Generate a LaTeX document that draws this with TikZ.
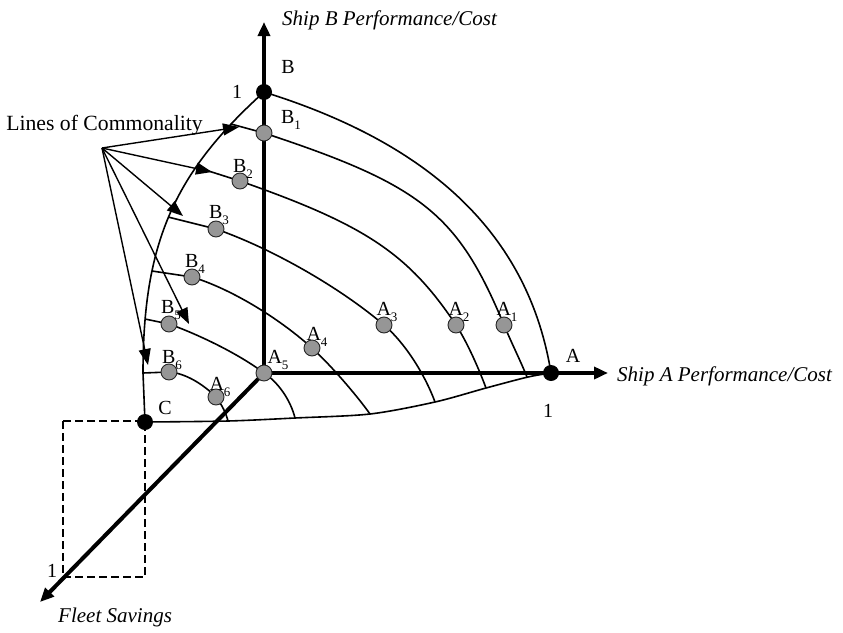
\documentclass[tikz,border=0pt]{standalone}
\usepackage{fontspec}
\setmainfont{Liberation Serif}
\usetikzlibrary{arrows.meta}
\definecolor{dotgray}{RGB}{150,150,150}
\newcommand{\lbsub}[2]{#1\raisebox{-0.3em}{\fontsize{13}{13}\selectfont #2}}
\begin{document}
\begin{tikzpicture}[x=1pt,y=-1pt,
  curveln/.style={line width=1.6pt, line join=round},
  axisln/.style={line width=4pt, -{Triangle[length=14pt,width=12pt]}},
  comm/.style={line width=1.4pt, -{Triangle[length=16pt,width=12pt]}},
  gdot/.style={circle, draw=black!85, line width=0.9pt, fill=dotgray, minimum size=16pt, inner sep=0pt},
  bdot/.style={circle, fill=black, minimum size=16pt, inner sep=0pt},
  lab/.style={font=\fontsize{20}{23}\selectfont, inner sep=0pt, anchor=base},
  ttl/.style={font=\fontsize{21}{24}\selectfont\itshape, inner sep=0pt},
  dashln/.style={line width=1.4pt, dash pattern=on 8pt off 4pt}]
\useasboundingbox (0,0) rectangle (843,632);

% key coordinates
\coordinate (O) at (264,373);
\coordinate (Btip) at (264,22);
\coordinate (Atip) at (608,373);
\coordinate (Ftip) at (40,602);
\coordinate (Bp) at (264,92);
\coordinate (Ap) at (551,373);
\coordinate (Cp) at (145,422);
\coordinate (R1) at (63,421);
\coordinate (R3) at (145,577);
\coordinate (P) at (102,148);
\coordinate (T1) at (239,127);
\coordinate (T2) at (212,172);
\coordinate (T3) at (183,216);
\coordinate (T4) at (189,324);
\coordinate (T5) at (148,365);

\coordinate (L1) at (231,124); \coordinate (cb1) at (264,133); \coordinate (ca1) at (504,325); \coordinate (E1) at (527,377);
\coordinate (L2) at (196,167); \coordinate (cb2) at (240,181); \coordinate (ca2) at (456,325); \coordinate (E2) at (486,388);
\coordinate (L3) at (168,217); \coordinate (cb3) at (216,229); \coordinate (ca3) at (384,325); \coordinate (E3) at (435,402);
\coordinate (L4) at (152,271); \coordinate (cb4) at (192,277); \coordinate (ca4) at (312,348); \coordinate (E4) at (370,414);
\coordinate (L5) at (145,319); \coordinate (cb5) at (169,324); \coordinate (ca5) at (264,373); \coordinate (E5) at (295,418);
\coordinate (L6) at (143,373); \coordinate (cb6) at (169,372); \coordinate (ca6) at (216,397); \coordinate (E6) at (228,421);

% dashed projection box
\draw[dashln] (R1) rectangle (R3);

% boundaries
\draw[curveln] (Cp) -- (L6) .. controls (143,244) and (173.25,173.75) .. (Bp);
\draw[curveln] plot[smooth] coordinates {(Cp) (E6) (E5) (E4) (E3) (E2) (528,377) (Ap)};
\draw[curveln] (Bp) .. controls (418,140) and (527,225) .. (Ap);

% level curves
\draw[curveln] (L1) -- (cb1) .. controls (421.7,185) and (457.7,213.8) .. (ca1) .. controls (512,344) and (521,362) .. (E1);
\draw[curveln] (L2) -- (cb2) .. controls (365.2,224.8) and (408.4,253.6) .. (ca2) .. controls (465,338.6) and (477,363.8) .. (E2);
\draw[curveln] (L3) -- (cb3) .. controls (272.2,248.7) and (339.4,287.1) .. (ca3) .. controls (403.7,341.7) and (424.1,372.5) .. (E3);
\draw[curveln] (L4) -- (cb4) .. controls (229,288.1) and (277,316.5) .. (ca4) .. controls (328.8,363.2) and (354.9,392.9) .. (E4);
\draw[curveln] (L5) -- (cb5) .. controls (194.4,332.9) and (236.9,352.5) .. (ca5) .. controls (278.2,382.2) and (290.6,400.2) .. (E5);
\draw[curveln] (L6) -- (cb6) .. controls (185,373) and (203,384) .. (ca6) .. controls (222,405) and (226,413) .. (E6);

% axes
\draw[axisln] (O) -- (Btip);
\draw[axisln] (O) -- (Atip);
\draw[axisln] (O) -- (Ftip);

% lines of commonality
\draw[comm] (P) -- (T1);
\draw[comm] (P) -- (T2);
\draw[comm] (P) -- (T3);
\draw[comm] (P) -- (T4);
\draw[comm] (P) -- (T5);

% points
\node[bdot] (nB) at (Bp) {};
\node[bdot] (nA) at (Ap) {};
\node[bdot] (nC) at (Cp) {};
\foreach \i in {1,...,6} {
  \node[gdot] (b\i) at (cb\i) {};
  \node[gdot] (a\i) at (ca\i) {};
}

% labels
\node[lab] (lB) at (288,73) {B};
\node[lab] (l1B) at (237,98) {1};
\node[lab] (lA) at (573,362) {A};
\node[lab] (l1A) at (548,417) {1};
\node[lab] (lC) at (165,414) {C};
\node[lab] (l1C) at (52,577) {1};

\node[lab] (lb1) at (291,123) {\lbsub{B}{1}};
\node[lab] (lb2) at (243,172) {\lbsub{B}{2}};
\node[lab] (lb3) at (219,218) {\lbsub{B}{3}};
\node[lab] (lb4) at (195,267) {\lbsub{B}{4}};
\node[lab] (lb5) at (171,313) {\lbsub{B}{5}};
\node[lab] (lb6) at (172,363) {\lbsub{B}{6}};
\node[lab] (la6) at (220,390) {\lbsub{A}{6}};
\node[lab] (la5) at (278,363) {\lbsub{A}{5}};
\node[lab] (la4) at (317,340) {\lbsub{A}{4}};
\node[lab] (la3) at (387,315) {\lbsub{A}{3}};
\node[lab] (la2) at (459,315) {\lbsub{A}{2}};
\node[lab] (la1) at (507,315) {\lbsub{A}{1}};

\node[font=\fontsize{21.7}{24}\selectfont, inner sep=0pt, anchor=base east] (tLC) at (203,130) {Lines of Commonality};
\node[ttl, anchor=base west] (tB) at (282,25) {Ship B Performance/Cost};
\node[ttl, anchor=base west] (tA) at (617,381) {Ship A Performance/Cost};
\node[ttl, anchor=base west] (tF) at (58,622) {Fleet Savings};
\end{tikzpicture}
\end{document}
